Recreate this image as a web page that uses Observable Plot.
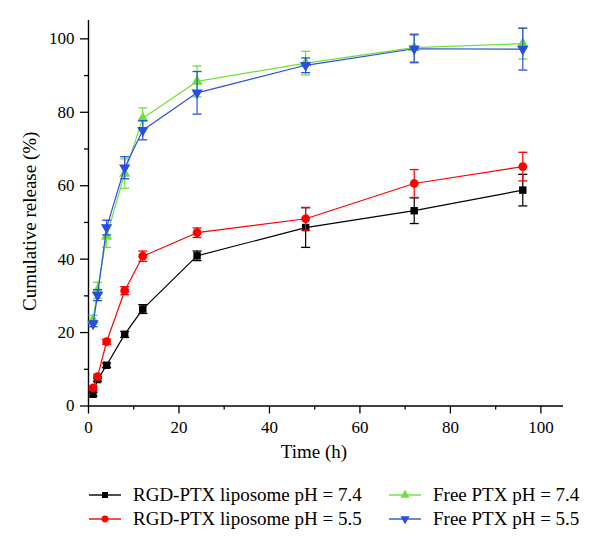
<!DOCTYPE html>
<html><head><meta charset="utf-8">
<script src="https://cdn.jsdelivr.net/npm/d3@7"></script>
<script src="https://cdn.jsdelivr.net/npm/@observablehq/plot@0.6"></script>
<style>
body{margin:0;background:#fff;font-family:"Liberation Serif","Times New Roman",serif;}
#chart{position:relative;width:600px;height:553px;overflow:hidden;}
.leg{position:absolute;display:flex;align-items:center;font-size:19px;height:24px;white-space:nowrap;color:#000;}
.leg svg{margin-right:12px;}
</style></head><body><div id="chart"></div>
<script>
const times = [1, 2, 4, 8, 12, 24, 48, 72, 96];
const seriesNames = ["RGD-PTX liposome pH = 7.4", "RGD-PTX liposome pH = 5.5", "Free PTX pH = 7.4", "Free PTX pH = 5.5"];
const rgd74    = [3.2, 7.2, 11.1, 19.5, 26.4, 40.9, 48.6, 53.2, 58.8];
const rgd74Err = [0.5, 0.5, 0.6, 0.8, 1.2, 1.3, 5.4, 3.5, 4.3];
const rgd55    = [4.9, 8.0, 17.5, 31.4, 40.8, 47.2, 51.0, 60.6, 65.2];
const rgd55Err = [0.6, 0.6, 0.7, 1.1, 1.4, 1.3, 3.1, 3.8, 3.9];
const free74    = [23.5, 31.5, 46.2, 63.3, 78.4, 88.4, 93.4, 97.6, 98.7];
const free74Err = [1.2, 2.2, 3.0, 4.0, 2.8, 4.2, 3.2, 3.8, 4.2];
const free55    = [22.4, 30.2, 48.6, 64.9, 75.1, 85.3, 92.8, 97.3, 97.2];
const free55Err = [0.8, 1.5, 2.0, 3.0, 2.6, 5.8, 2.0, 3.8, 5.7];
const xTicks = [0, 20, 40, 60, 80, 100];
const xMinor = [10, 30, 50, 70, 90];
const yTicks = [0, 20, 40, 60, 80, 100];
const yMinor = [10, 30, 50, 70, 90];
const xLabel = "Time (h)";
const yLabel = "Cumulative release (%)";

const series = [
  {name: seriesNames[0], values: rgd74, err: rgd74Err, color: "#000000", symbol: "square", rotate: 0, r: 4.2},
  {name: seriesNames[1], values: rgd55, err: rgd55Err, color: "#ff0000", symbol: "circle", rotate: 0, r: 4.4},
  {name: seriesNames[2], values: free74, err: free74Err, color: "#6ee03a", symbol: "triangle", rotate: 0, r: 4.2},
  {name: seriesNames[3], values: free55, err: free55Err, color: "#2a4fe0", symbol: "triangle", rotate: 180, r: 4.2}
];
const rows = series.flatMap((s, k) => times.map((t, i) => ({
  k, series: s.name, t, v: s.values[i], lo: s.values[i] - s.err[i], hi: s.values[i] + s.err[i]
})));

const cap = {draw(ctx, size) { const w = Math.sqrt(size / Math.PI); ctx.moveTo(-w, 0); ctx.lineTo(w, 0); }};

const marks = [];
series.forEach((s, k) => {
  const d = rows.filter(r => r.k === k);
  marks.push(Plot.ruleX(d, {x: "t", y1: "lo", y2: "hi", stroke: s.color, strokeWidth: 1.2}));
  marks.push(Plot.dot(d, {x: "t", y: "lo", symbol: cap, r: 4.5, stroke: s.color, strokeWidth: 1.3, fill: "none"}));
  marks.push(Plot.dot(d, {x: "t", y: "hi", symbol: cap, r: 4.5, stroke: s.color, strokeWidth: 1.3, fill: "none"}));
  marks.push(Plot.line(d, {x: "t", y: "v", stroke: s.color, strokeWidth: 1.2}));
  marks.push(Plot.dot(d, {x: "t", y: "v", symbol: s.symbol, r: s.r, fill: s.color, stroke: "none", rotate: s.rotate}));
});

const plot = Plot.plot({
  width: 600,
  height: 475,
  marginLeft: 88,
  marginRight: 37,
  marginTop: 20,
  marginBottom: 69.5,
  style: {fontFamily: "'Liberation Serif', 'Times New Roman', serif", fontSize: "17px", background: "white", color: "black"},
  x: {domain: [0, 105]},
  y: {domain: [0, 105]},
  marks: [
    Plot.axisX(xTicks, {tickSize: 8, tickPadding: 7, strokeWidth: 1.3, fontSize: 17, label: null}),
    Plot.axisX(xMinor, {tickSize: 4, strokeWidth: 1.3, tickFormat: () => "", label: null}),
    Plot.axisY(yTicks, {tickSize: 8, tickPadding: 6, strokeWidth: 1.3, fontSize: 17, label: null}),
    Plot.axisY(yMinor, {tickSize: 4, strokeWidth: 1.3, tickFormat: () => "", label: null}),
    Plot.ruleY([0], {strokeWidth: 1.4}),
    Plot.ruleX([0], {strokeWidth: 1.4}),
    ...marks,
    Plot.text([xLabel], {text: d => d, frameAnchor: "bottom", textAnchor: "middle", dy: 52, dx: -12, fontSize: 19}),
    Plot.text([yLabel], {text: d => d, frameAnchor: "left", textAnchor: "middle", rotate: -90, dx: -59, dy: 8, fontSize: 19})
  ]
});
const chart = document.getElementById("chart");
chart.appendChild(plot);

const legendPos = [{left: 89, top: 483}, {left: 89, top: 507}, {left: 389, top: 483}, {left: 389, top: 507}];
series.forEach((s, k) => {
  const div = document.createElement("div");
  div.className = "leg";
  div.style.left = legendPos[k].left + "px";
  div.style.top = legendPos[k].top + "px";
  const sym = {square: d3.symbolSquare, circle: d3.symbolCircle, triangle: d3.symbolTriangle}[s.symbol];
  const path = d3.symbol(sym, Math.PI * 3.4 * 3.4)();
  div.innerHTML = `<svg width="32" height="24"><line x1="0" x2="32" y1="12" y2="12" stroke="${s.color}" stroke-width="1.4"/><path d="${path}" fill="${s.color}" transform="translate(16,12) rotate(${s.rotate})"/></svg><span>${s.name}</span>`;
  chart.appendChild(div);
});
</script></body></html>
